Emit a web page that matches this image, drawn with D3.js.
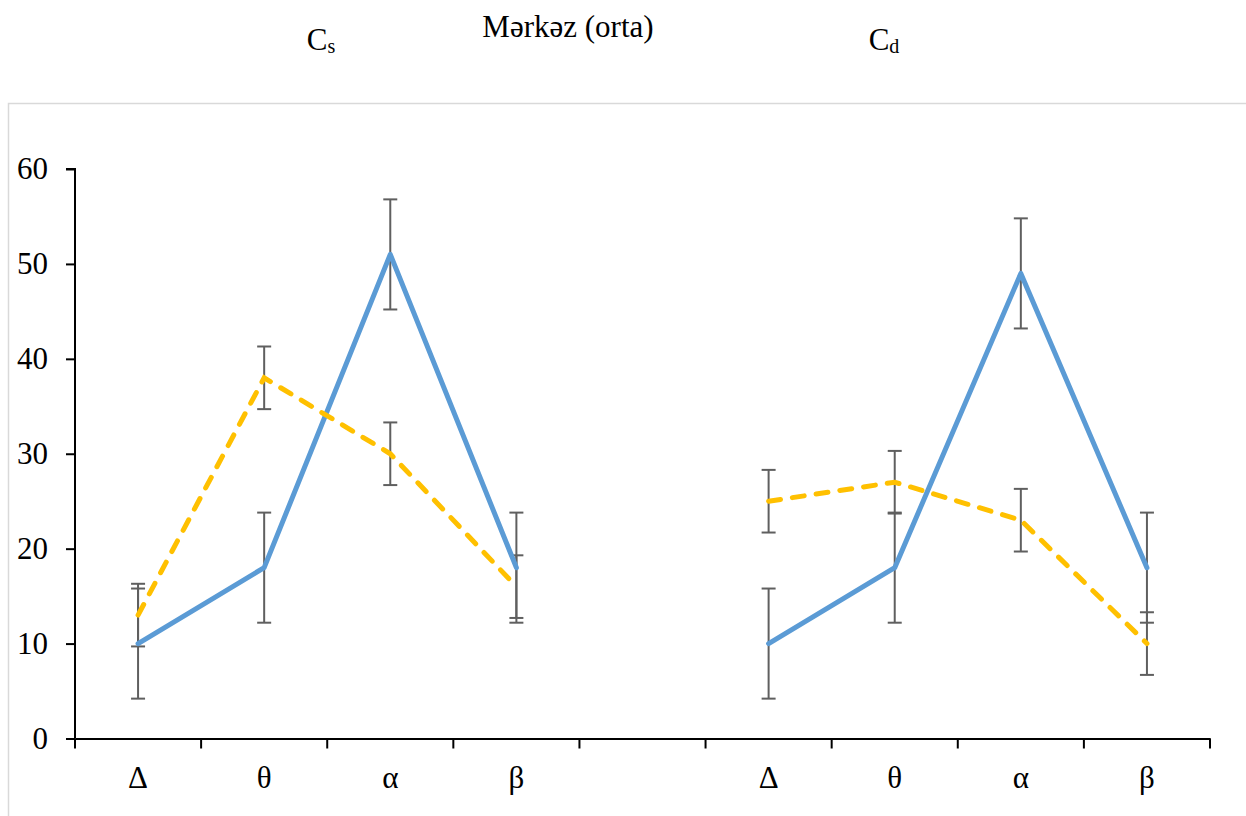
<!DOCTYPE html>
<html>
<head>
<meta charset="utf-8">
<script src="https://cdn.jsdelivr.net/npm/d3@7"></script>
<style>
  body { margin: 0; background: #fff; }
  svg { display: block; font-family: "Liberation Serif", "Times New Roman", serif; }
</style>
</head>
<body>
<svg id="chart"></svg>
<script>
// ---- data ----
const categories = ["Δ", "θ", "α", "β", "", "Δ", "θ", "α", "β"];
const blueValues = [10, 18, 51, 18, null, 10, 18, 49, 18];
const orangeValues = [13, 38, 30, 16, null, 25, 27, 23, 10];
const blueErr = 5.8;
const orangeErr = 3.3;
const yTicks = [0, 10, 20, 30, 40, 50, 60];
const titles = [
  { main: "C", sub: "s", x: 321, y: 50 },
  { main: "Mərkəz (orta)", sub: "", x: 568, y: 37 },
  { main: "C", sub: "d", x: 884, y: 50 }
];

// ---- layout ----
const W = 1246, H = 816;
const fontSize = 31;
const svg = d3.select("#chart").attr("width", W).attr("height", H);

// outer chart frame (runs past right/bottom edge)
svg.append("rect")
  .attr("x", 8.5).attr("y", 103.5)
  .attr("width", 1300).attr("height", 800)
  .attr("fill", "none").attr("stroke", "#d9d9d9").attr("stroke-width", 1.5);

const x = d3.scaleBand()
  .domain(d3.range(categories.length))
  .range([75, 1210]);
const y = d3.scaleLinear().domain([0, 60]).range([738.5, 169]);

// titles
titles.forEach(t => {
  const txt = svg.append("text")
    .attr("x", t.x).attr("y", t.y)
    .attr("text-anchor", "middle")
    .attr("font-size", fontSize);
  txt.append("tspan").text(t.main);
  if (t.sub) txt.append("tspan").attr("font-size", 20).attr("dy", 3).text(t.sub);
});

// axes
const yAxis = svg.append("g")
  .attr("transform", "translate(75,0)")
  .call(d3.axisLeft(y).tickValues(yTicks).tickSize(9).tickPadding(18));
const xAxis = svg.append("g")
  .attr("transform", `translate(0,${y(0)})`)
  .call(d3.axisBottom(x).tickSize(0).tickFormat(i => categories[i]).tickPadding(27));

[yAxis, xAxis].forEach(g => {
  g.attr("font-family", null).attr("font-size", null);
  g.select(".domain").attr("stroke", "#000").attr("stroke-width", 2);
  g.selectAll(".tick line").attr("stroke", "#000").attr("stroke-width", 2);
  g.selectAll("text").attr("font-size", fontSize).attr("fill", "#000");
});
yAxis.select(".domain").attr("d", `M-9,${y(60)}H0V${y(0)}`);

// x ticks at band boundaries
const bounds = d3.range(categories.length + 1).map(i => i === categories.length ? 1210 : x(i));
svg.append("g").selectAll("line")
  .data(bounds).enter().append("line")
  .attr("x1", d => d).attr("x2", d => d)
  .attr("y1", y(0)).attr("y2", y(0) + 10)
  .attr("stroke", "#000").attr("stroke-width", 2);

const cx = i => x(i) + x.bandwidth() / 2;

// error bars
function drawErrors(values, err) {
  const pts = values.map((v, i) => ({ v, i })).filter(d => d.v !== null);
  const g = svg.append("g").attr("stroke", "#5f5f5f").attr("stroke-width", 2);
  g.selectAll(".v").data(pts).enter().append("line")
    .attr("x1", d => cx(d.i)).attr("x2", d => cx(d.i))
    .attr("y1", d => y(d.v - err)).attr("y2", d => y(d.v + err));
  [-1, 1].forEach(s => {
    g.selectAll(".c" + s).data(pts).enter().append("line")
      .attr("x1", d => cx(d.i) - 7).attr("x2", d => cx(d.i) + 7)
      .attr("y1", d => y(d.v + s * err)).attr("y2", d => y(d.v + s * err));
  });
}
drawErrors(blueValues, blueErr);
drawErrors(orangeValues, orangeErr);

// lines
const line = d3.line()
  .defined(d => d !== null)
  .x((d, i) => cx(i))
  .y(d => y(d));

svg.append("path")
  .datum(blueValues)
  .attr("d", line)
  .attr("fill", "none")
  .attr("stroke", "#5b9bd5")
  .attr("stroke-width", 5)
  .attr("stroke-linejoin", "round")
  .attr("stroke-linecap", "round");

svg.append("path")
  .datum(orangeValues)
  .attr("d", line)
  .attr("fill", "none")
  .attr("stroke", "#ffc000")
  .attr("stroke-width", 5)
  .attr("stroke-dasharray", "12,12")
  .attr("stroke-linecap", "round");
</script>
</body>
</html>
